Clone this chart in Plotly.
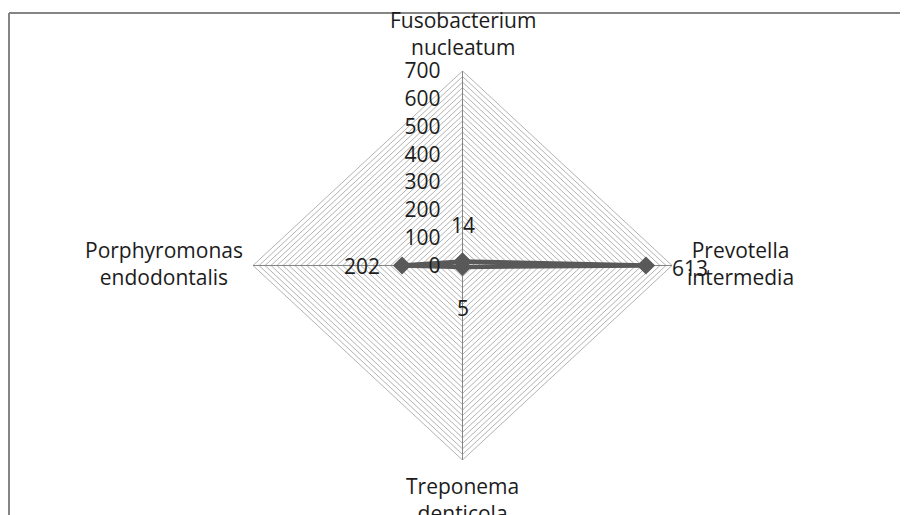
import plotly.graph_objects as go
import math

# ---- data ----
categories = ["Fusobacterium<br>nucleatum", "Prevotella<br>intermedia",
              "Treponema<br>denticola", "Porphyromonas<br>endodontalis"]
values = [14, 613, 5, 202]
angles_deg = [90, 0, -90, 180]          # clockwise from top
radial_ticks = [0, 100, 200, 300, 400, 500, 600, 700]
r_max = 700
grid_step = 20

# figure is drawn at an 8px page offset
W, H = 900, 507
L, R, T, B = 245, 236, 63, 55           # plot area = radar extent
SERIES = "#595959"
TXT = "#1c1c1c"
FONT = "Open Sans"
FS = 21

def xy(r, a):
    return r * math.cos(math.radians(a)), r * math.sin(math.radians(a))

fig = go.Figure()

# gridline diamonds
for g in range(grid_step, r_max + 1, grid_step):
    pts = [xy(g, a) for a in angles_deg] + [xy(g, angles_deg[0])]
    fig.add_trace(go.Scatter(x=[p[0] for p in pts], y=[p[1] for p in pts],
                             mode="lines", line=dict(color="#9e9e9e", width=0.8),
                             hoverinfo="skip", showlegend=False, cliponaxis=False))
# spokes
for a in angles_deg:
    ex, ey = xy(r_max, a)
    fig.add_trace(go.Scatter(x=[0, ex], y=[0, ey], mode="lines",
                             line=dict(color="#858585", width=1),
                             hoverinfo="skip", showlegend=False, cliponaxis=False))

# series
pts = [xy(v, a) for v, a in zip(values, angles_deg)]
fig.add_trace(go.Scatter(x=[p[0] for p in pts] + [pts[0][0]],
                         y=[p[1] for p in pts] + [pts[0][1]],
                         mode="lines+markers",
                         line=dict(color=SERIES, width=4.5),
                         marker=dict(symbol="diamond", size=14, color=SERIES),
                         showlegend=False, cliponaxis=False))

annotations = []
# data labels
label_shift = {0: (0, 37, "center"), 1: (24, -2, "left"), 2: (0, -41, "center"), 3: (-20, 0, "right")}
for i, (v, p) in enumerate(zip(values, pts)):
    xs, ys, anc = label_shift[i]
    annotations.append(dict(x=p[0], y=p[1], text=str(v), showarrow=False,
                            xshift=xs, yshift=ys, xanchor=anc, yanchor="middle",
                            font=dict(family=FONT, size=FS, color=TXT)))
# category labels
cat_pos = {0: (0, 8, "center", "bottom"), 1: (13, 2, "left", "middle"),
           2: (0, -10, "center", "top"), 3: (-8, 2, "right", "middle")}
for i, (c, a) in enumerate(zip(categories, angles_deg)):
    ex, ey = xy(r_max, a)
    xs, ys, xa, ya = cat_pos[i]
    annotations.append(dict(x=ex, y=ey, text=c, showarrow=False, xshift=xs, yshift=ys,
                            xanchor=xa, yanchor=ya, align="center",
                            font=dict(family=FONT, size=FS, color=TXT)))

pw, ph = W - L - R, H - T - B
def px2paper_x(px): return (px - L) / pw
def px2paper_y(py): return 1 - (py - T) / ph

shapes = [
    dict(type="line", xref="paper", yref="paper", x0=px2paper_x(1), x1=px2paper_x(W),
         y0=px2paper_y(5), y1=px2paper_y(5), line=dict(color="#858585", width=2)),
    dict(type="line", xref="paper", yref="paper", x0=px2paper_x(1), x1=px2paper_x(1),
         y0=px2paper_y(5), y1=px2paper_y(H), line=dict(color="#858585", width=2)),
]

fig.update_layout(
    width=W, height=H, margin=dict(l=L, r=R, t=T, b=B),
    paper_bgcolor="white", plot_bgcolor="white",
    xaxis=dict(range=[-r_max, r_max], visible=False, fixedrange=True),
    yaxis=dict(range=[-r_max, r_max], anchor="free", position=0.5,
               showgrid=False, zeroline=False, showline=False, ticks="",
               tickvals=radial_ticks, ticktext=[str(t) for t in radial_ticks],
               ticklabelstandoff=22,
               tickfont=dict(family=FONT, size=FS, color=TXT), fixedrange=True),
    annotations=annotations, shapes=shapes, showlegend=False,
)

fig.write_html("out.html")
